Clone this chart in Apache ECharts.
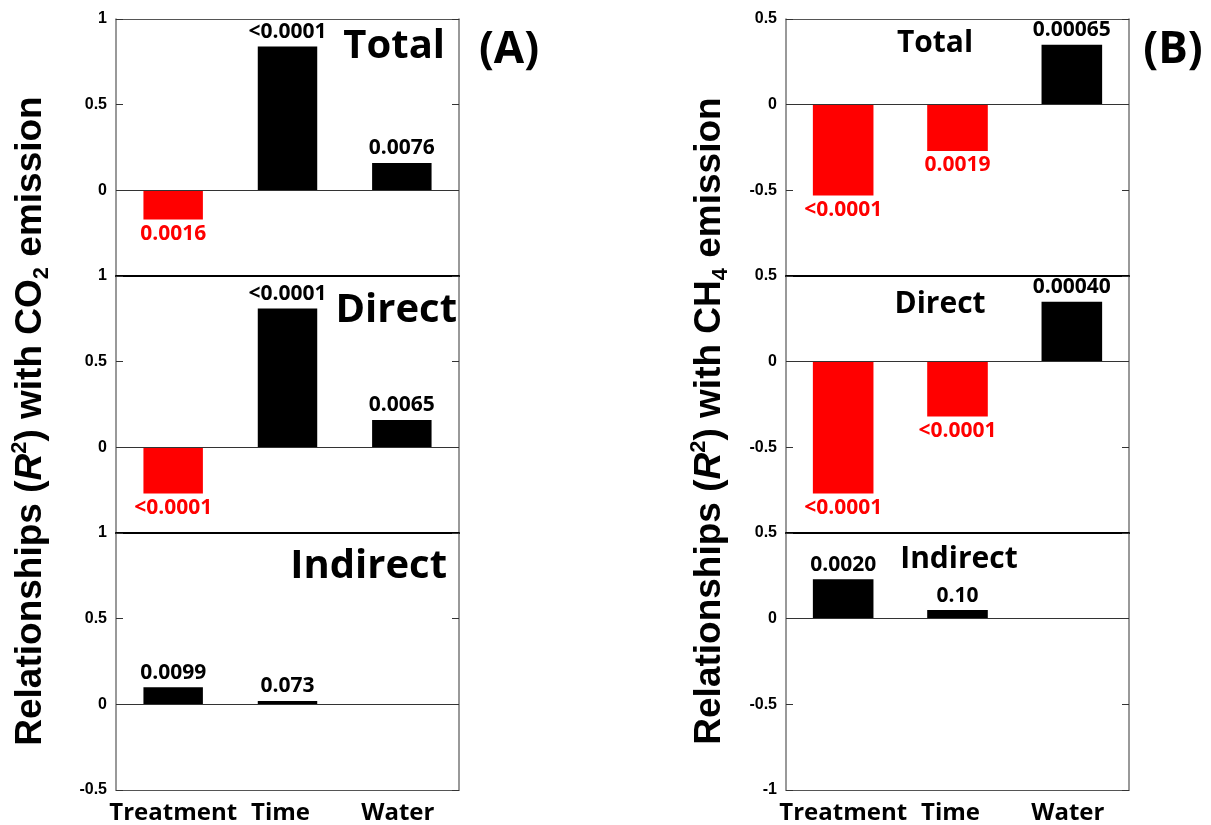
<!DOCTYPE html>
<html>
<head>
<meta charset="utf-8">
<script src="https://cdn.jsdelivr.net/npm/echarts@6/dist/echarts.min.js"></script>
<style>
  html, body { margin: 0; padding: 0; background: #fff; }
  #chart { width: 1211px; height: 825px; }
</style>
</head>
<body>
<div id="chart"></div>
<script>
// Predictor categories shared by every sub-panel
const categories = ['Treatment', 'Time', 'Water'];

// (A) CO2 emission: R2 (signed) and p-values
const co2Total = [-0.17, 0.84, 0.16];
const co2TotalP = ['0.0016', '<0.0001', '0.0076'];
const co2Direct = [-0.27, 0.81, 0.16];
const co2DirectP = ['<0.0001', '<0.0001', '0.0065'];
const co2Indirect = [0.10, 0.02, null];
const co2IndirectP = ['0.0099', '0.073', ''];

// (B) CH4 emission: R2 (signed) and p-values
const ch4Total = [-0.53, -0.27, 0.35];
const ch4TotalP = ['<0.0001', '0.0019', '0.00065'];
const ch4Direct = [-0.77, -0.32, 0.35];
const ch4DirectP = ['<0.0001', '<0.0001', '0.00040'];
const ch4Indirect = [0.23, 0.05, null];
const ch4IndirectP = ['0.0020', '0.10', ''];

// y-axis ranges
const co2Axis = { min: -0.5, max: 1, interval: 0.5 };
const ch4Axis = { min: -1, max: 0.5, interval: 0.5 };

const RED = '#ff0000';
const LABEL_FONT = '"Open Sans", "Noto Sans", sans-serif';
const TICK_FONT = '"Liberation Sans", Arial, sans-serif';

const panels = [
  { vals: co2Total, p: co2TotalP, axis: co2Axis, left: 116, top: 19, last: false, barW: '52%' },
  { vals: co2Direct, p: co2DirectP, axis: co2Axis, left: 116, top: 276, last: false, barW: '52%' },
  { vals: co2Indirect, p: co2IndirectP, axis: co2Axis, left: 116, top: 533, last: true, barW: '52%' },
  { vals: ch4Total, p: ch4TotalP, axis: ch4Axis, left: 786, top: 19, last: false, barW: '53%' },
  { vals: ch4Direct, p: ch4DirectP, axis: ch4Axis, left: 786, top: 276, last: false, barW: '53%' },
  { vals: ch4Indirect, p: ch4IndirectP, axis: ch4Axis, left: 786, top: 533, last: true, barW: '53%' }
];

// category labels sit slightly left of centre for the 2nd and 3rd categories
const labelShift = [0, 14, 8];
const categoryItems = categories.map((c, k) => ({
  value: c,
  textStyle: { padding: [0, labelShift[k], 0, 0] }
}));

const grid = [], xAxis = [], yAxis = [], series = [];

panels.forEach((pn, i) => {
  grid.push({ left: pn.left, top: pn.top, width: 343, height: 257, show: false });

  // bottom category axis (labels only on the lowest panel)
  xAxis.push({
    type: 'category', gridIndex: i, data: categoryItems, position: 'bottom',
    axisLine: { onZero: false, lineStyle: { color: '#555', width: 1.2 } },
    axisTick: { inside: true, length: 4, lineStyle: { color: '#333' } },
    axisLabel: {
      show: pn.last, interval: 0, color: '#000', fontFamily: LABEL_FONT, fontWeight: 'bold',
      fontSize: 24, margin: 11
    },
    splitLine: { show: false }
  });
  // top mirror of the category axis
  xAxis.push({
    type: 'category', gridIndex: i, data: categoryItems, position: 'top',
    axisLine: { onZero: false, lineStyle: { color: i % 3 === 0 ? '#555' : '#000', width: i % 3 === 0 ? 1.2 : 2 } },
    axisTick: { inside: true, length: 4, lineStyle: { color: '#333' } },
    axisLabel: { show: false },
    splitLine: { show: false }
  });

  // left value axis with labels
  yAxis.push({
    type: 'value', gridIndex: i, position: 'left',
    min: pn.axis.min, max: pn.axis.max, interval: pn.axis.interval,
    axisLine: { show: true, lineStyle: { color: '#777', width: 1.5 } },
    axisTick: { show: true, inside: true, length: 7, lineStyle: { color: '#333' } },
    axisLabel: {
      show: true, showMinLabel: pn.last, color: '#000', fontFamily: TICK_FONT,
      fontWeight: 'bold', fontSize: 16, margin: 9
    },
    splitLine: { show: false }
  });
  // right mirror of the value axis
  yAxis.push({
    type: 'value', gridIndex: i, position: 'right',
    min: pn.axis.min, max: pn.axis.max, interval: pn.axis.interval,
    axisLine: { show: true, lineStyle: { color: '#777', width: 1.5 } },
    axisTick: { show: true, inside: true, length: 7, lineStyle: { color: '#333' } },
    axisLabel: { show: false },
    splitLine: { show: false }
  });

  series.push({
    type: 'bar',
    xAxisIndex: i * 2,
    yAxisIndex: i * 2,
    barWidth: pn.barW,
    data: pn.vals.map((v, k) => {
      const neg = v !== null && v < 0;
      return {
        value: v,
        itemStyle: { color: neg ? RED : '#000' },
        label: {
          show: v !== null,
          position: neg ? 'bottom' : 'top',
          distance: 4,
          formatter: pn.p[k],
          color: neg ? RED : '#000',
          fontFamily: LABEL_FONT,
          fontWeight: 'bold',
          fontSize: 21
        }
      };
    }),
    markLine: {
      silent: true,
      symbol: 'none',
      label: { show: false },
      lineStyle: { color: '#333', width: 1.2, type: 'solid' },
      data: [{ yAxis: 0 }]
    }
  });
});

// panel captions and axis titles
function caption(text, x, y, size, align) {
  return {
    type: 'text', x: x, y: y, silent: true,
    style: {
      text: text, fill: '#000', align: align, verticalAlign: 'top',
      font: 'bold ' + size + 'px ' + LABEL_FONT
    }
  };
}

function yTitle(gas, sub, x, y) {
  return {
    type: 'text', x: x, y: y, rotation: Math.PI / 2, silent: true,
    style: {
      text: '{b|Relationships (}{i|R}{sup|2}{b|) with ' + gas + '}{sub|' + sub + '}{b| emission}',
      align: 'center', verticalAlign: 'middle',
      rich: {
        b: { fontFamily: TICK_FONT, fontWeight: 'bold', fontSize: 37, fill: '#000', lineHeight: 44 },
        i: { fontFamily: TICK_FONT, fontWeight: 'bold', fontStyle: 'italic', fontSize: 37, fill: '#000', lineHeight: 44 },
        sup: { fontFamily: TICK_FONT, fontWeight: 'bold', fontSize: 22, fill: '#000', verticalAlign: 'top', lineHeight: 44 },
        sub: { fontFamily: TICK_FONT, fontWeight: 'bold', fontSize: 22, fill: '#000', verticalAlign: 'bottom', lineHeight: 44 }
      }
    }
  };
}

const graphic = [
  caption('Total', 445, 27, 40, 'right'),
  caption('Direct', 457, 291, 40, 'right'),
  caption('Indirect', 447, 547, 40, 'right'),
  caption('Total', 935, 28, 30, 'center'),
  caption('Direct', 940, 289, 30, 'center'),
  caption('Indirect', 959, 544, 30, 'center'),
  caption('(A)', 509, 28, 44, 'center'),
  caption('(B)', 1173, 28, 44, 'center'),
  yTitle('CO', '2', 31, 421),
  yTitle('CH', '4', 710, 421)
];

const chart = echarts.init(document.getElementById('chart'), null, { renderer: 'canvas' });
chart.setOption({
  animation: false,
  backgroundColor: '#fff',
  grid: grid,
  xAxis: xAxis,
  yAxis: yAxis,
  series: series,
  graphic: graphic
});
</script>
</body>
</html>
